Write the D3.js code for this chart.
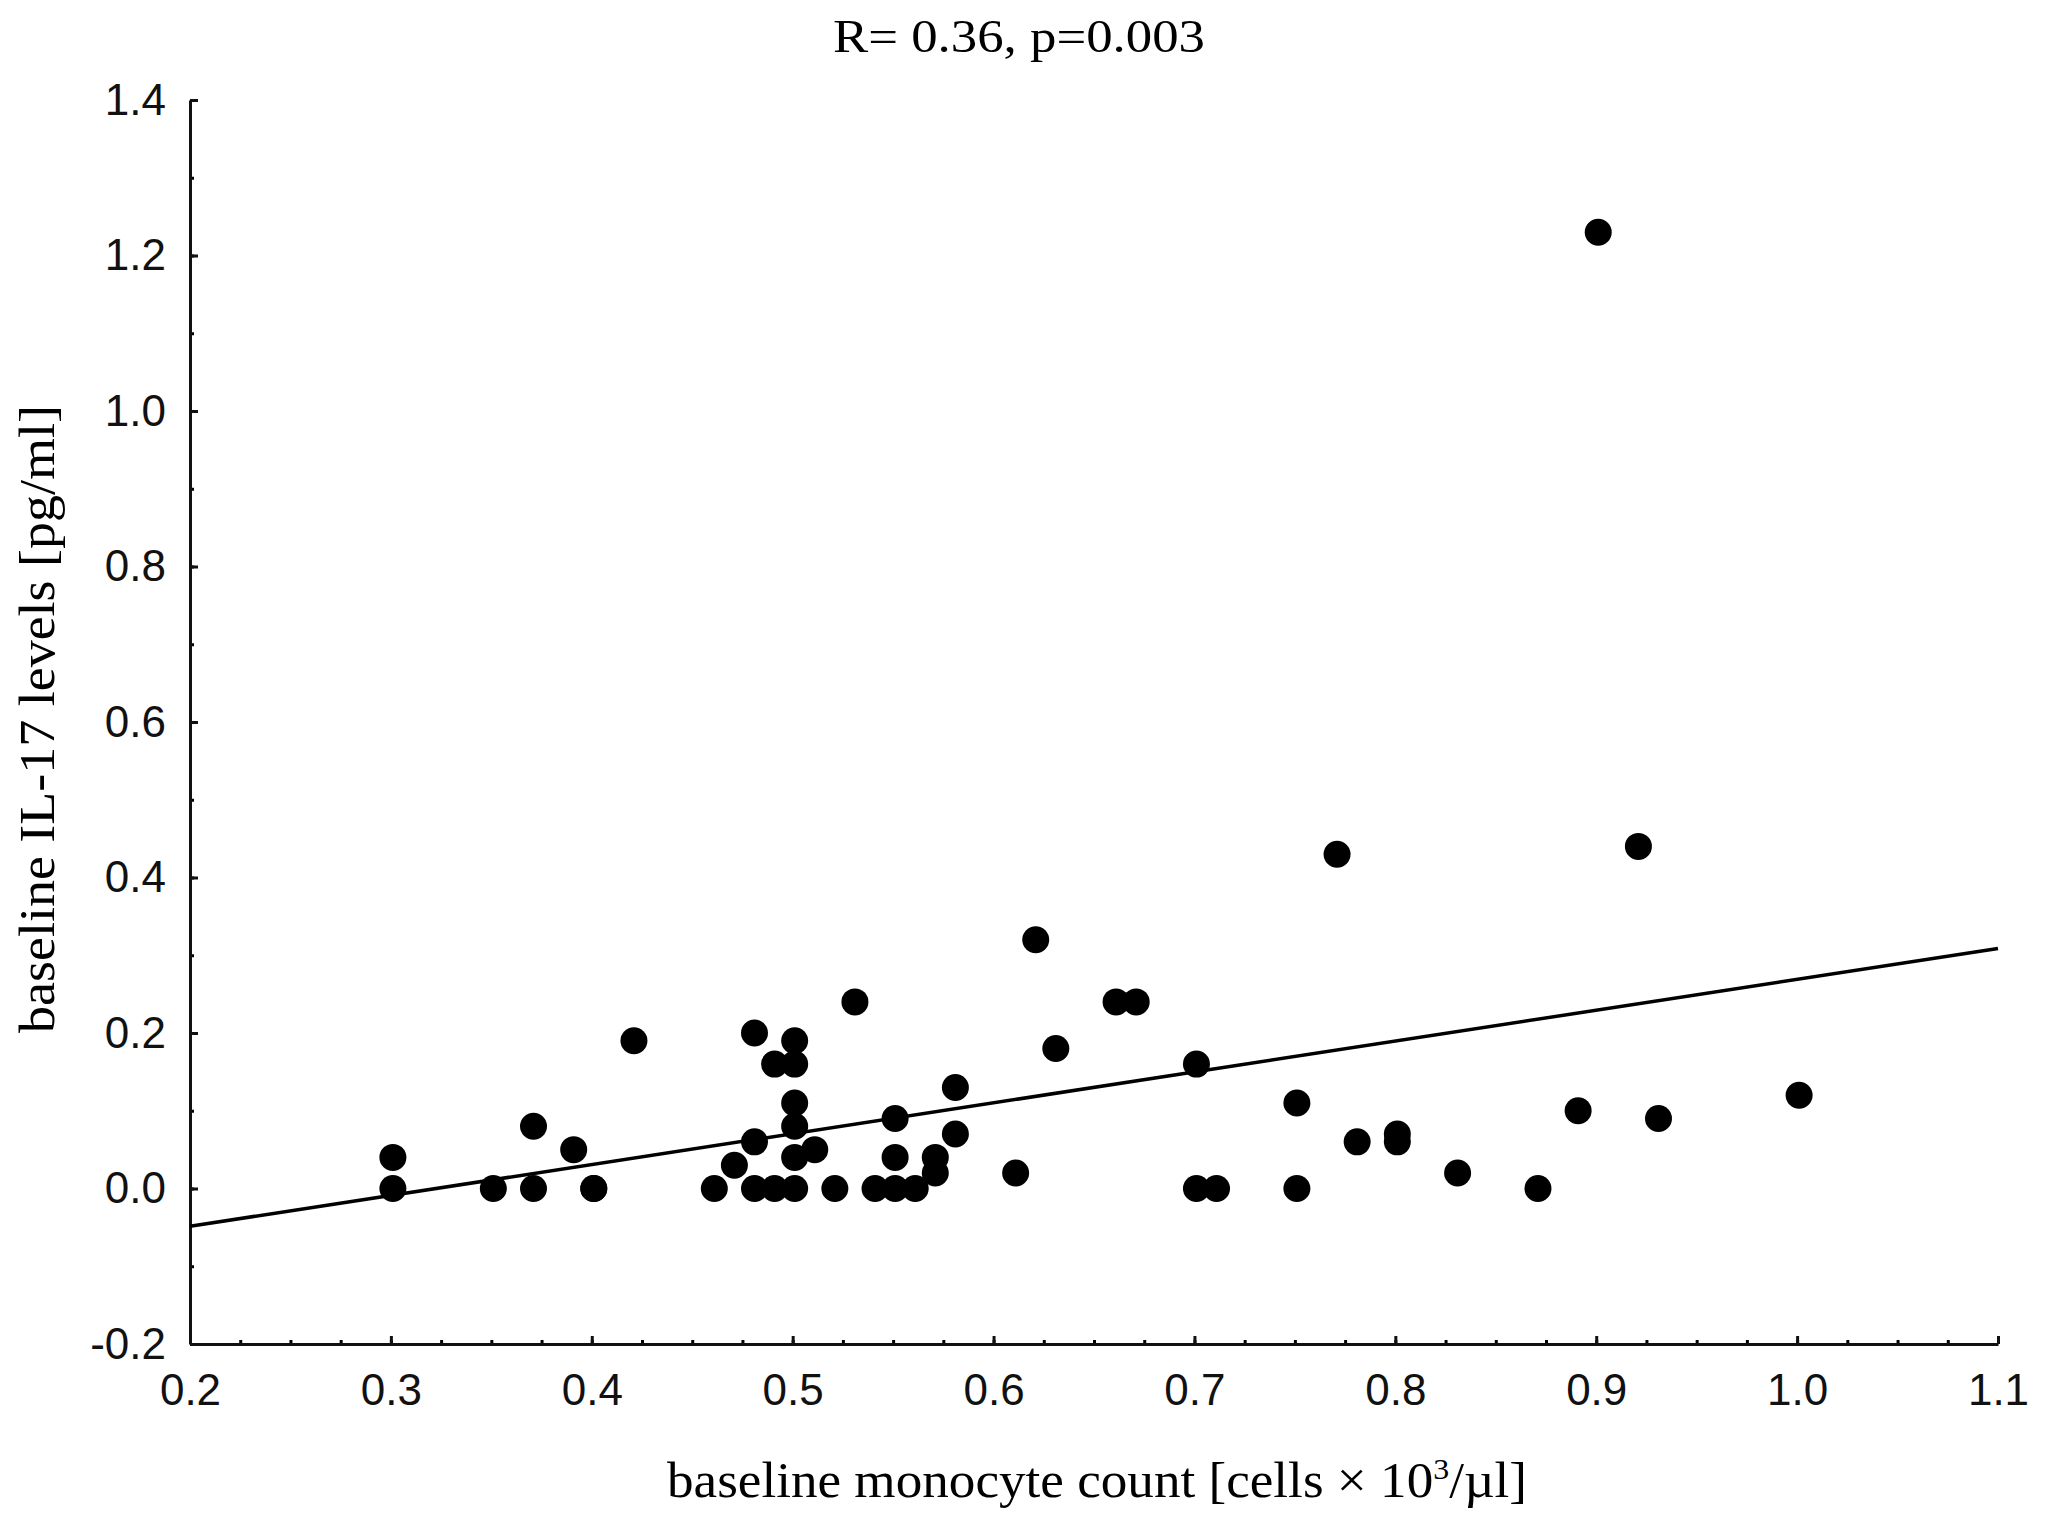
<!DOCTYPE html>
<html>
<head>
<meta charset="utf-8">
<script src="https://cdn.jsdelivr.net/npm/d3@7"></script>
<style>
  body { margin: 0; background: #fff; }
  .tick text { font-family: "Liberation Sans", Arial, sans-serif; }
  .serif { font-family: "Liberation Serif", "Times New Roman", serif; }
</style>
</head>
<body>
<div id="chart"></div>
<script>
// values
var monocyteCount = [0.30, 0.30, 0.35, 0.37, 0.37, 0.39, 0.40, 0.40, 0.42, 0.46,
  0.47, 0.48, 0.48, 0.48, 0.49, 0.49, 0.50, 0.50, 0.50, 0.50,
  0.50, 0.50, 0.51, 0.52, 0.53, 0.54, 0.55, 0.55, 0.55, 0.56,
  0.57, 0.57, 0.58, 0.58, 0.61, 0.62, 0.63, 0.66, 0.67, 0.70,
  0.70, 0.71, 0.75, 0.75, 0.77, 0.78, 0.80, 0.80, 0.83, 0.87,
  0.89, 0.90, 0.92, 0.93, 1.00];
var il17Level = [0.04, 0.00, 0.00, 0.08, 0.00, 0.05, 0.00, 0.00, 0.19, 0.00,
  0.03, 0.20, 0.06, 0.00, 0.16, 0.00, 0.19, 0.16, 0.11, 0.08,
  0.04, 0.00, 0.05, 0.00, 0.24, 0.00, 0.09, 0.04, 0.00, 0.00,
  0.04, 0.02, 0.13, 0.07, 0.02, 0.32, 0.18, 0.24, 0.24, 0.16,
  0.00, 0.00, 0.11, 0.00, 0.43, 0.06, 0.07, 0.06, 0.02, 0.00,
  0.10, 1.23, 0.44, 0.09, 0.12];

// fitted line as drawn
var fitSlope = 0.397, fitIntercept = -0.128;

var xTicks = [0.2, 0.3, 0.4, 0.5, 0.6, 0.7, 0.8, 0.9, 1.0, 1.1];
var yTicks = [-0.2, 0.0, 0.2, 0.4, 0.6, 0.8, 1.0, 1.2, 1.4];
var xMinorStep = 0.025, yMinorStep = 0.1;

var titleText = "R= 0.36, p=0.003";
var yTitle = "baseline IL-17 levels [pg/ml]";

var width = 2047, height = 1535;
var margin = { left: 190, right: 49, top: 100, bottom: 191 };

var svg = d3.select('#chart').append('svg')
  .attr('width', width)
  .attr('height', height);

var x = d3.scaleLinear().domain([0.2, 1.1]).range([margin.left, width - margin.right]);
var y = d3.scaleLinear().domain([-0.2, 1.4]).range([height - margin.bottom, margin.top]);

var fmt = function(d) { return d3.format(".1f")(d).replace("\u2212", "-"); };

function minorTicks(lo, hi, step) {
  var out = [];
  var n = Math.round((hi - lo) / step);
  for (var i = 0; i <= n; i++) out.push(+(lo + i * step).toFixed(4));
  return out;
}

// minor ticks first
svg.append('g')
  .attr('transform', 'translate(0,' + y(-0.2) + ')')
  .call(d3.axisBottom(x).tickValues(minorTicks(0.2, 1.1, xMinorStep)).tickSize(-4).tickFormat(''))
  .call(g => g.select('.domain').remove())
  .selectAll('line').attr('stroke-width', 3);

svg.append('g')
  .attr('transform', 'translate(' + x(0.2) + ',0)')
  .call(d3.axisLeft(y).tickValues(minorTicks(-0.2, 1.4, yMinorStep)).tickSize(-4).tickFormat(''))
  .call(g => g.select('.domain').remove())
  .selectAll('line').attr('stroke-width', 3);

var xAxis = svg.append('g')
  .attr('transform', 'translate(0,' + y(-0.2) + ')')
  .call(d3.axisBottom(x).tickValues(xTicks).tickSizeInner(-8).tickSizeOuter(0).tickPadding(30).tickFormat(fmt));

var yAxis = svg.append('g')
  .attr('transform', 'translate(' + x(0.2) + ',0)')
  .call(d3.axisLeft(y).tickValues(yTicks).tickSizeInner(-8).tickSizeOuter(0).tickPadding(24).tickFormat(fmt));

[xAxis, yAxis].forEach(function(g) {
  g.select('.domain').attr('stroke', '#111').attr('stroke-width', 3);
  g.selectAll('.tick line').attr('stroke', '#111').attr('stroke-width', 3);
  g.selectAll('.tick text').attr('font-size', 44).attr('fill', '#111');
});

// regression line
svg.append('line')
  .attr('x1', x(0.2)).attr('y1', y(fitIntercept + fitSlope * 0.2))
  .attr('x2', x(1.1)).attr('y2', y(fitIntercept + fitSlope * 1.1))
  .attr('stroke', '#000')
  .attr('stroke-width', 3.5);

// points
svg.append('g').selectAll('circle')
  .data(monocyteCount.map((d, i) => [d, il17Level[i]]))
  .enter().append('circle')
  .attr('cx', d => x(d[0]) + 2)
  .attr('cy', d => y(d[1]))
  .attr('r', 13.5)
  .attr('fill', '#000');

// titles
svg.append('text')
  .attr('class', 'serif')
  .attr('x', 1019).attr('y', 52)
  .attr('text-anchor', 'middle')
  .attr('font-size', 46)
  .attr('textLength', 372).attr('lengthAdjust', 'spacingAndGlyphs')
  .text(titleText);

var xt = svg.append('text')
  .attr('class', 'serif')
  .attr('x', 1097).attr('y', 1497)
  .attr('text-anchor', 'middle')
  .attr('font-size', 50)
  .attr('textLength', 860).attr('lengthAdjust', 'spacingAndGlyphs');
xt.append('tspan').text('baseline monocyte count [cells \u00d7 10');
xt.append('tspan').attr('dy', -18).attr('font-size', 30).text('3');
xt.append('tspan').attr('dy', 18).text('/\u00b5l]');

svg.append('text')
  .attr('class', 'serif')
  .attr('transform', 'translate(54,719) rotate(-90)')
  .attr('text-anchor', 'middle')
  .attr('font-size', 50)
  .attr('textLength', 628).attr('lengthAdjust', 'spacingAndGlyphs')
  .text(yTitle);
</script>
</body>
</html>
